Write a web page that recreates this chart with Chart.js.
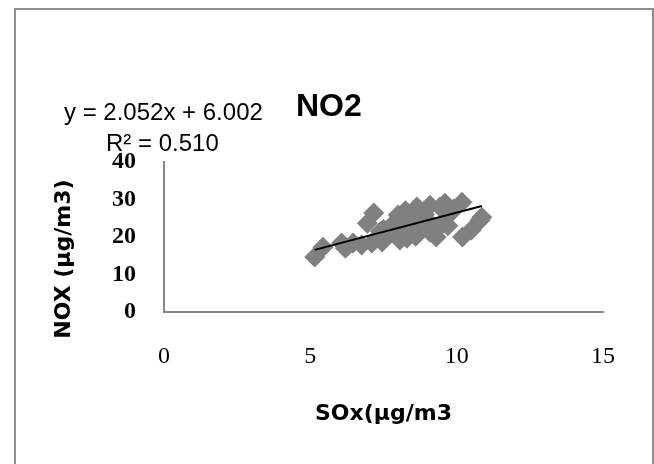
<!DOCTYPE html>
<html>
<head>
<meta charset="utf-8">
<script src="https://cdn.jsdelivr.net/npm/chart.js@4.4.0/dist/chart.umd.min.js"></script>
<style>
body { margin: 0; background: #fff; }
#wrap { position: relative; width: 654px; height: 464px; overflow: hidden; }
#frame { position: absolute; left: 14px; top: 8px; width: 636px; height: 480px; border: 2px solid #8e8e8e; }
#chart { position: absolute; left: 0; top: 0; }
</style>
</head>
<body>
<div id="wrap"><div id="frame"></div><canvas id="chart" width="654" height="464"></canvas></div>
<script>
// values
var soxValues = [5.15, 5.43, 6.07, 6.2, 6.46, 6.75, 7.1, 7.45, 7.17, 6.95, 8.0, 7.8, 8.06, 8.64,
                 9.09, 9.43, 10.18, 8.3, 9.09, 9.53, 10.2, 10.5, 10.8, 10.86, 8.4, 8.8, 7.6, 9.8,
                 8.9, 9.3, 7.4, 7.5, 8.2, 8.5, 9.7, 9.9, 8.6, 7.9, 8.25, 9.6, 9.2];
var noxValues = [14.7, 17.3, 18.4, 17.0, 18.4, 17.9, 18.4, 18.7, 26.4, 23.7, 25.9, 23.2, 19.2, 28.0,
                 28.5, 28.0, 29.3, 19.7, 21.3, 23.7, 20.0, 21.9, 24.5, 25.3, 25.0, 22.5, 20.5, 26.5,
                 26.0, 20.0, 21.5, 22.0, 22.5, 24.0, 23.0, 27.5, 20.2, 21.0, 27.0, 29.0, 22.8];
var xTicks = [0, 5, 10, 15];
var yTicks = [0, 10, 20, 30, 40];
var trendSlope = 2.052;
var trendIntercept = 6.002;
var trendR2 = "0.510";
var chartTitle = "NO2";
var xTitle = "SOx(\u00b5g/m3";
var yTitle = "NOX (\u00b5g/m3)";

var points = [];
for (var i = 0; i < soxValues.length; i++) {
    points.push({x: soxValues[i], y: noxValues[i]});
}
var xMin = Math.min.apply(null, soxValues);
var xMax = Math.max.apply(null, soxValues);
var trend = [
    {x: xMin, y: trendSlope * xMin + trendIntercept},
    {x: xMax, y: trendSlope * xMax + trendIntercept}
];

//texts that excel puts loose on the chart
var labelsPlugin = {
    id: 'labels',
    afterDraw: function (chart) {
        var ctx = chart.ctx;
        ctx.save();
        ctx.fillStyle = '#000';
        ctx.textAlign = 'left';
        ctx.textBaseline = 'alphabetic';
        ctx.font = "24px 'Liberation Sans', Arial, sans-serif";
        ctx.fillText("y = " + trendSlope + "x + " + trendIntercept.toFixed(3), 64, 120);
        ctx.fillText("R\u00b2 = " + trendR2, 106, 151);
        ctx.font = "bold 32px 'Liberation Sans', Arial, sans-serif";
        ctx.fillText(chartTitle, 296, 116);

        ctx.translate(64, 259);
        ctx.rotate(-Math.PI / 2);
        ctx.textAlign = 'center';
        ctx.textBaseline = 'middle';
        ctx.font = "bold 22px 'DejaVu Sans', sans-serif";
        ctx.fillText(yTitle, 0, 0);
        ctx.restore();
    }
};

var ctx = document.getElementById("chart").getContext("2d");
var myChart = new Chart(ctx, {
    type: 'scatter',
    data: {
        datasets: [{
            type: 'line',
            data: trend,
            borderColor: '#000',
            borderWidth: 2,
            pointRadius: 0,
            fill: false,
            order: 0
        }, {
            data: points,
            pointStyle: 'rectRot',
            pointRadius: 10.5,
            pointHoverRadius: 10.5,
            backgroundColor: '#808080',
            borderColor: '#808080',
            borderWidth: 0,
            order: 1
        }]
    },
    options: {
        responsive: false,
        animation: false,
        events: [],
        layout: {padding: {left: 0, right: 51, top: 162, bottom: 0}},
        plugins: {
            legend: {display: false},
            tooltip: {enabled: false}
        },
        scales: {
            x: {
                type: 'linear',
                min: xTicks[0],
                max: xTicks[xTicks.length - 1],
                afterBuildTicks: function (scale) {
                    scale.ticks = xTicks.map(function (v) { return {value: v}; });
                },
                afterFit: function (scale) { scale.height = 152; },
                grid: {display: false, drawTicks: false, tickLength: 0},
                border: {display: true, color: '#878787', width: 2},
                ticks: {
                    padding: 30,
                    color: '#000',
                    maxRotation: 0,
                    font: {family: "'Liberation Serif', 'DejaVu Serif', serif", size: 24}
                },
                title: {
                    display: true,
                    text: xTitle,
                    color: '#000',
                    padding: {top: 0, bottom: 37},
                    font: {family: "'DejaVu Sans', sans-serif", size: 22, weight: 'bold'}
                }
            },
            y: {
                type: 'linear',
                min: yTicks[0],
                max: yTicks[yTicks.length - 1],
                afterBuildTicks: function (scale) {
                    scale.ticks = yTicks.map(function (v) { return {value: v}; });
                },
                afterFit: function (scale) { scale.width = 164; },
                grid: {display: false, drawTicks: false, tickLength: 0},
                border: {display: true, color: '#878787', width: 2},
                ticks: {
                    padding: 28,
                    color: '#000',
                    font: {family: "'Liberation Serif', 'DejaVu Serif', serif", size: 24, weight: 'bold'}
                }
            }
        }
    },
    plugins: [labelsPlugin]
});
</script>
</body>
</html>
